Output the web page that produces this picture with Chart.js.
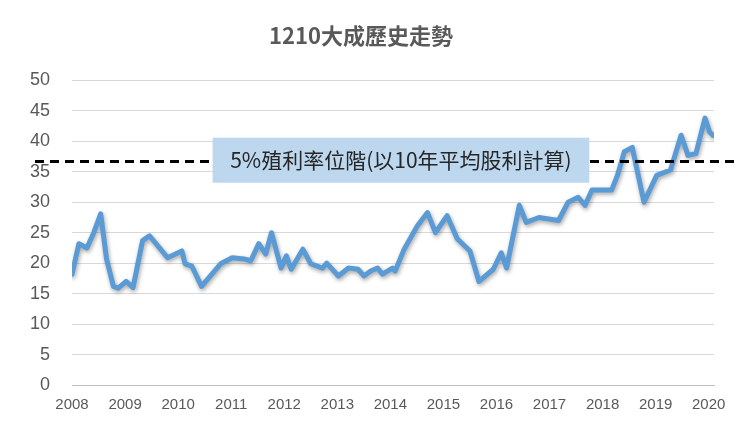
<!DOCTYPE html>
<html>
<head>
<meta charset="utf-8">
<script src="https://cdn.jsdelivr.net/npm/chart.js@4/dist/chart.umd.min.js"></script>
<style>
  body { margin: 0; background: #fff; }
  #wrap { width: 740px; height: 429px; position: relative; }
</style>
</head>
<body>
<div id="wrap"><canvas id="c"></canvas></div>
<script>
// price history (year as decimal, price)
const years = [2008.00, 2008.13, 2008.28, 2008.41, 2008.54, 2008.65, 2008.78, 2008.87, 2009.02, 2009.15, 2009.33, 2009.46,
  2009.80, 2010.07, 2010.13, 2010.26, 2010.44, 2010.80, 2011.02, 2011.24, 2011.37, 2011.52, 2011.65, 2011.76,
  2011.94, 2012.04, 2012.13, 2012.35, 2012.50, 2012.72, 2012.80, 2013.02, 2013.21, 2013.39, 2013.50, 2013.63,
  2013.76, 2013.85, 2014.04, 2014.09, 2014.26, 2014.50, 2014.70, 2014.85, 2015.07, 2015.26, 2015.50, 2015.67,
  2015.94, 2016.09, 2016.19, 2016.43, 2016.56, 2016.80, 2017.17, 2017.35, 2017.54, 2017.67, 2017.80, 2018.17,
  2018.28, 2018.41, 2018.56, 2018.78, 2019.02, 2019.28, 2019.48, 2019.61, 2019.76, 2019.93, 2020.02, 2020.08];
const prices = [18.2, 23.2, 22.5, 25.0, 28.1, 20.7, 16.2, 15.9, 17.0, 16.0, 23.7, 24.5,
  20.9, 22.0, 19.9, 19.5, 16.2, 19.9, 20.9, 20.7, 20.4, 23.2, 21.5, 25.0,
  19.2, 21.2, 19.0, 22.3, 19.9, 19.2, 20.0, 17.9, 19.2, 19.0, 17.9, 18.7,
  19.2, 18.2, 19.2, 18.7, 22.3, 26.0, 28.3, 25.0, 27.8, 24.0, 22.0, 17.0,
  19.0, 21.7, 19.2, 29.5, 26.7, 27.5, 27.0, 30.0, 30.8, 29.5, 32.0, 32.0,
  34.4, 38.3, 39.0, 30.0, 34.4, 35.3, 41.0, 37.7, 38.0, 43.8, 41.5, 41.0];
const yearTicks = [2008, 2009, 2010, 2011, 2012, 2013, 2014, 2015, 2016, 2017, 2018, 2019, 2020];
const yieldLevel = 36.7;
const yieldLabel = '5%殖利率位階(以10年平均股利計算)';

const overlay = {
  id: 'overlay',
  afterDatasetsDraw(chart) {
    const { ctx, scales: { x, y } } = chart;
    const py = y.getPixelForValue(yieldLevel);
    ctx.save();
    ctx.strokeStyle = '#000';
    ctx.lineWidth = 3;
    ctx.setLineDash([9, 6]);
    ctx.beginPath();
    ctx.moveTo(35, py);
    ctx.lineTo(chart.width, py);
    ctx.stroke();
    ctx.setLineDash([]);
    // label box
    const x0 = x.getPixelForValue(2010.65), x1 = x.getPixelForValue(2017.75);
    const y0 = y.getPixelForValue(40.6), y1 = y.getPixelForValue(33.2);
    ctx.fillStyle = '#bdd7ee';
    ctx.fillRect(x0, y0, x1 - x0, y1 - y0);
    ctx.fillStyle = '#262626';
    ctx.font = '21px "Noto Sans CJK TC", "Noto Sans", sans-serif';
    ctx.textAlign = 'center';
    ctx.textBaseline = 'middle';
    ctx.fillText(yieldLabel, (x0 + x1) / 2, (y0 + y1) / 2);
    ctx.restore();
  }
};

const shadow = {
  id: 'shadow',
  beforeDatasetDraw(chart) {
    const ctx = chart.ctx;
    ctx.save();
    ctx.shadowColor = 'rgba(0,0,0,0.35)';
    ctx.shadowBlur = 4;
    ctx.shadowOffsetX = 1;
    ctx.shadowOffsetY = 2;
  },
  afterDatasetDraw(chart) { chart.ctx.restore(); }
};

new Chart(document.getElementById('c'), {
  type: 'line',
  data: {
    datasets: [{
      data: years.map((yr, i) => ({ x: yr, y: prices[i] })),
      borderColor: '#5b9bd5',
      borderWidth: 5,
      pointRadius: 0,
      tension: 0,
      borderJoinStyle: 'round',
      borderCapStyle: 'round'
    }]
  },
  options: {
    responsive: true,
    maintainAspectRatio: false,
    animation: false,
    layout: { padding: { left: 8, right: 26, top: 0, bottom: 12 } },
    plugins: {
      legend: { display: false },
      tooltip: { enabled: false },
      title: {
        display: true,
        text: '1210大成歷史走勢',
        color: '#595959',
        font: { family: '"Noto Sans CJK TC", sans-serif', size: 22, weight: 'bold' },
        padding: { top: 22, bottom: 32 }
      }
    },
    scales: {
      x: {
        type: 'linear',
        min: 2008,
        max: 2020.1,
        afterBuildTicks: (axis) => { axis.ticks = yearTicks.map(v => ({ value: v })); },
        grid: { display: false, drawTicks: true },
        border: { color: '#bfbfbf' },
        ticks: { color: '#595959', font: { size: 15 }, callback: v => String(v), maxRotation: 0 }
      },
      y: {
        min: 0,
        max: 50,
        ticks: { stepSize: 5, color: '#595959', font: { size: 18 }, padding: 22 },
        grid: { color: '#d9d9d9', drawTicks: false },
        border: { display: false }
      }
    }
  },
  plugins: [shadow, overlay]
});
</script>
</body>
</html>
